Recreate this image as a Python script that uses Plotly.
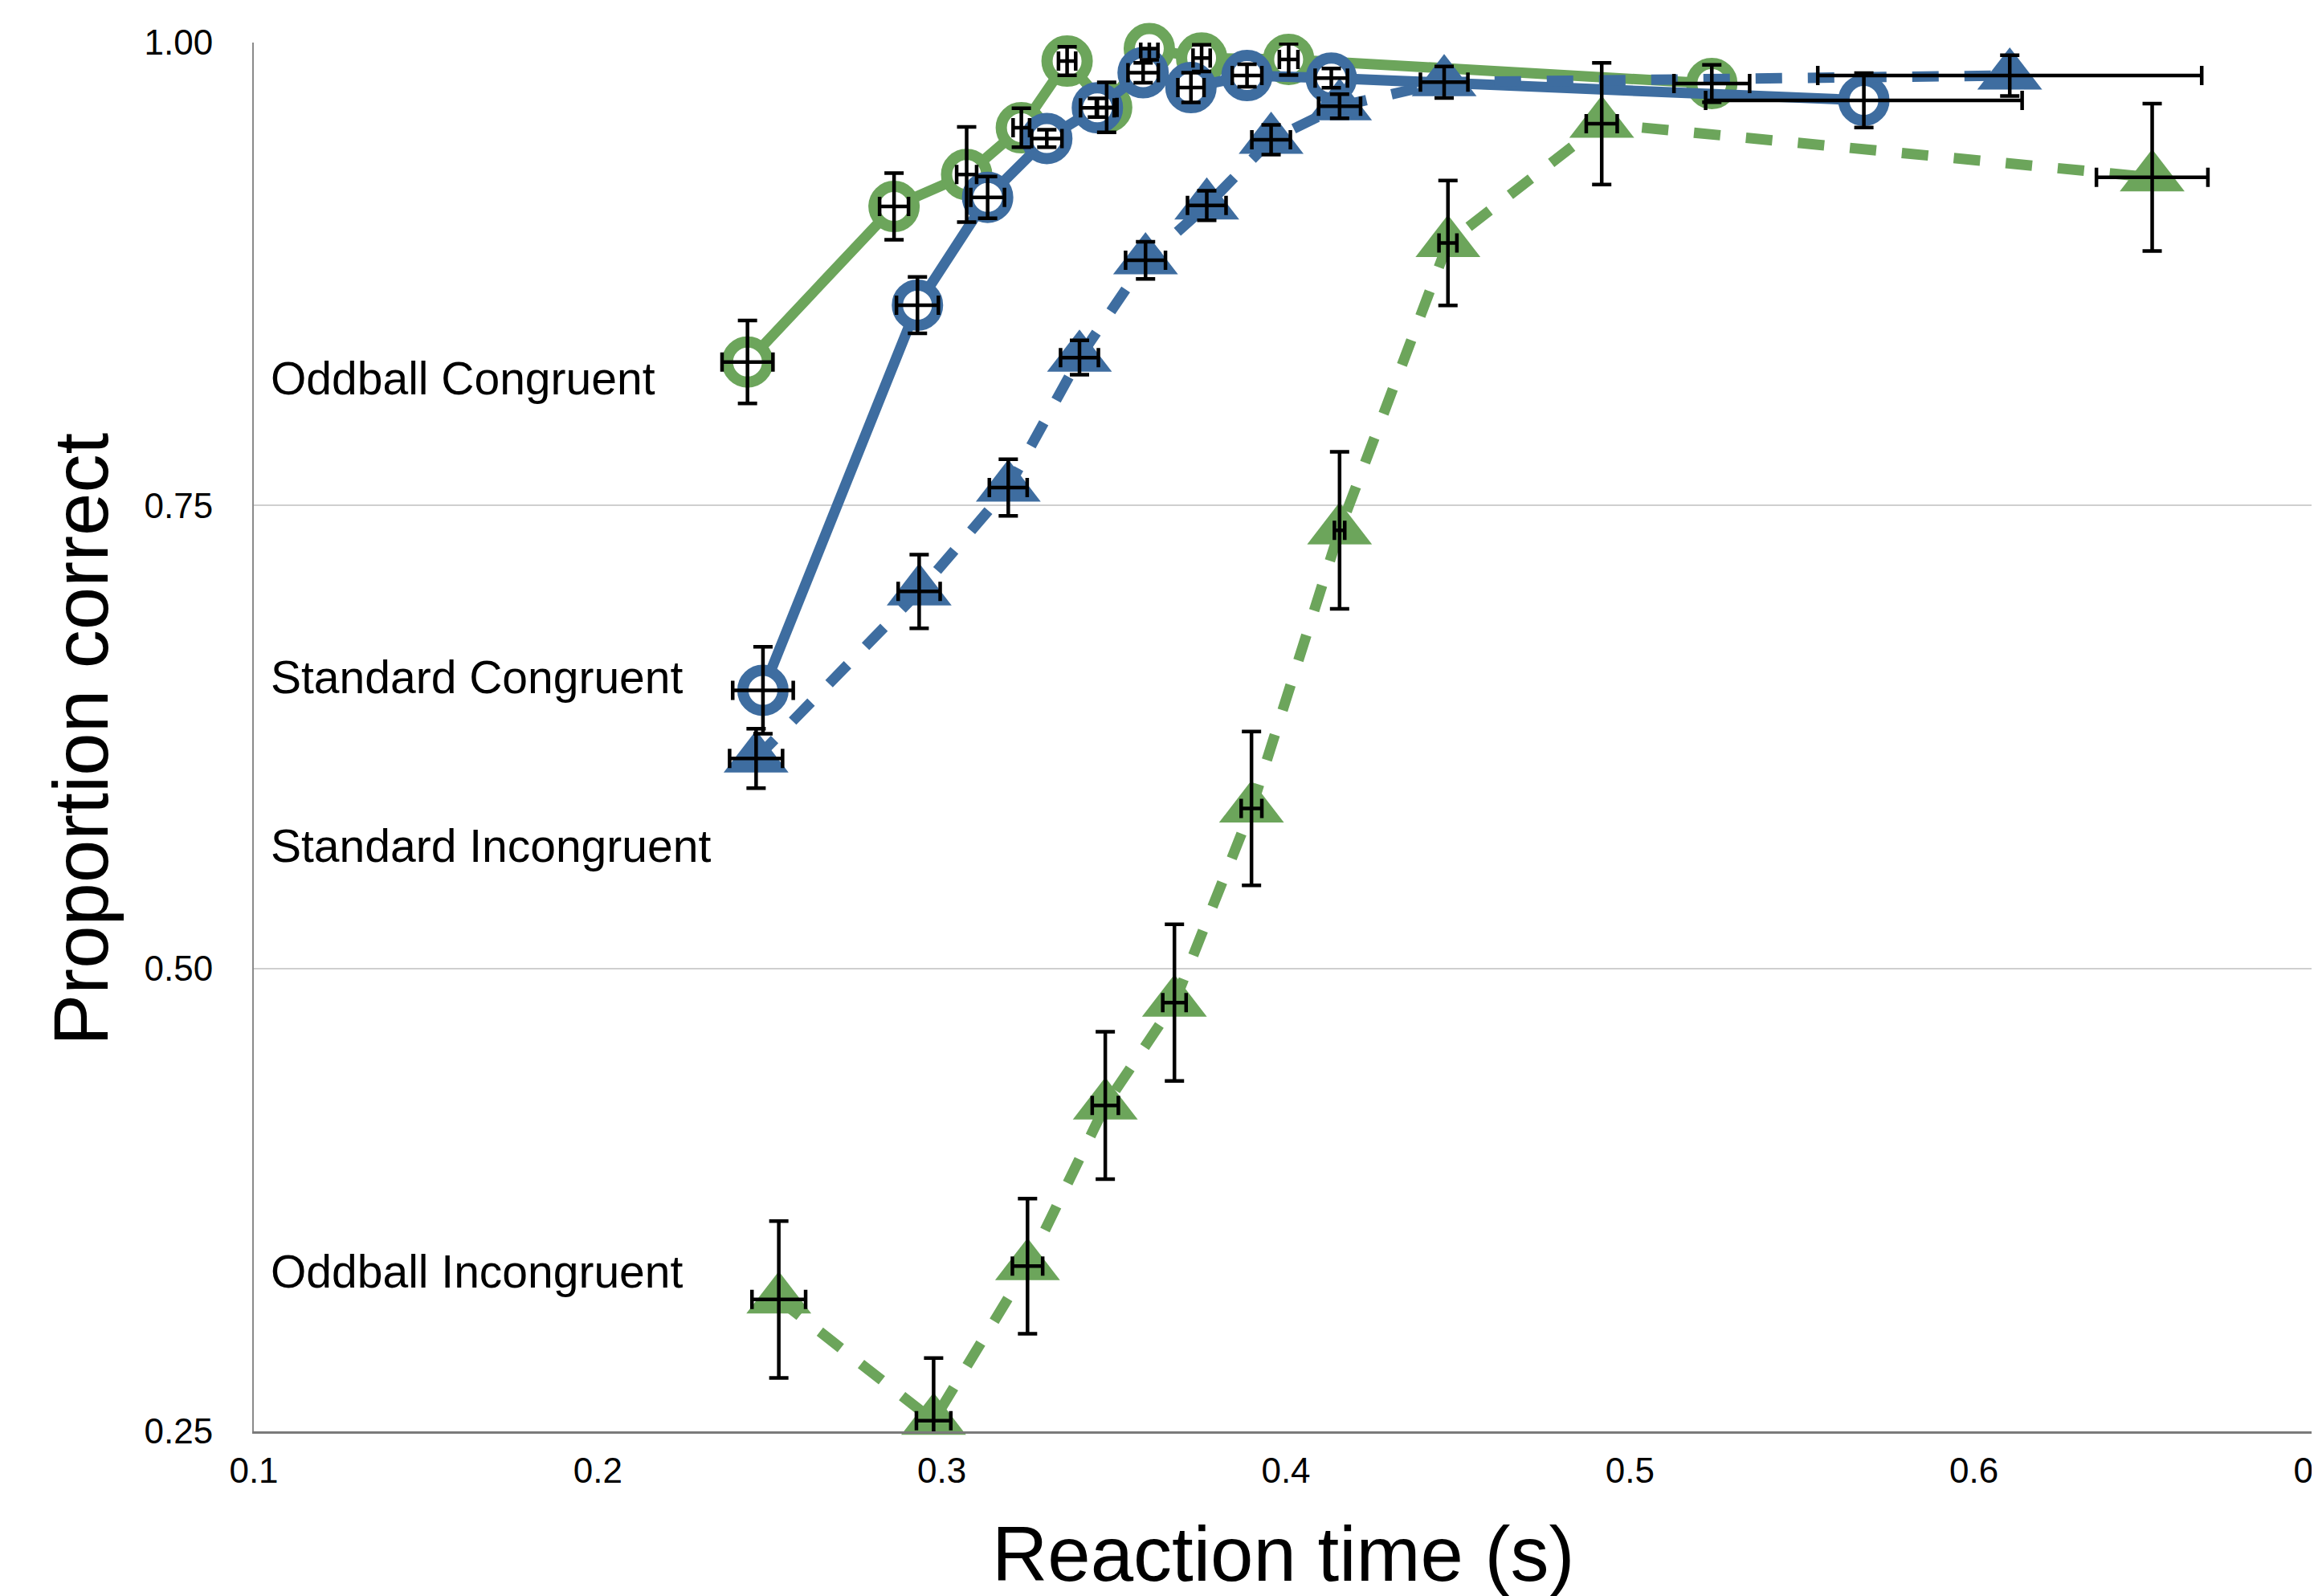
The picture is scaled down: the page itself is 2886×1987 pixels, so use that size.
import plotly.graph_objects as go

# ---------------- data ----------------
x_ticks = [0.1, 0.2, 0.3, 0.4, 0.5, 0.6, 0.7]
x_tick_labels = ["0.1", "0.2", "0.3", "0.4", "0.5", "0.6", "0.7"]
y_ticks = [0.25, 0.50, 0.75, 1.00]
y_tick_labels = ["0.25", "0.50", "0.75", "1.00"]

# Oddball Congruent
oc_x = [0.2435, 0.2861, 0.3072, 0.3231, 0.3364, 0.3479, 0.3603, 0.3755, 0.4008, 0.5238]
oc_y = [0.8275, 0.9115, 0.9287, 0.9540, 0.9900, 0.9650, 0.9967, 0.9916, 0.9909, 0.9779]
oc_xerr = [0.0074, 0.0042, 0.0029, 0.0024, 0.0025, 0.0030, 0.0025, 0.0025, 0.0027, 0.0110]
oc_yerr = [0.0224, 0.0180, 0.0257, 0.0105, 0.0077, 0.0135, 0.0060, 0.0072, 0.0085, 0.0101]

# Oddball Incongruent
oi_x = [0.2526, 0.2976, 0.3249, 0.3475, 0.3676, 0.3900, 0.4156, 0.4471, 0.4918, 0.6518]
oi_y = [0.3212, 0.2557, 0.3392, 0.4260, 0.4815, 0.5864, 0.7366, 0.8918, 0.9562, 0.9272]
oi_xerr = [0.0078, 0.0050, 0.0044, 0.0038, 0.0034, 0.0030, 0.0015, 0.0026, 0.0045, 0.0162]
oi_yerr = [0.0423, 0.0339, 0.0365, 0.0398, 0.0423, 0.0415, 0.0424, 0.0337, 0.0329, 0.0398]

# Standard Congruent
sc_x = [0.2480, 0.2929, 0.3133, 0.3305, 0.3452, 0.3585, 0.3724, 0.3887, 0.4132, 0.5680]
sc_y = [0.6502, 0.8582, 0.9164, 0.9482, 0.9648, 0.9837, 0.9757, 0.9822, 0.9808, 0.9688]
sc_xerr = [0.0088, 0.0061, 0.0049, 0.0044, 0.0049, 0.0044, 0.0038, 0.0043, 0.0047, 0.0460]
sc_yerr = [0.0235, 0.0152, 0.0113, 0.0047, 0.0050, 0.0054, 0.0080, 0.0061, 0.0052, 0.0147]

# Standard Incongruent
si_x = [0.2460, 0.2934, 0.3193, 0.3400, 0.3592, 0.3770, 0.3957, 0.4156, 0.4460, 0.6104]
si_y = [0.6134, 0.7036, 0.7597, 0.8299, 0.8824, 0.9120, 0.9475, 0.9656, 0.9786, 0.9822]
si_xerr = [0.0077, 0.0061, 0.0055, 0.0055, 0.0058, 0.0056, 0.0056, 0.0061, 0.0069, 0.0558]
si_yerr = [0.0160, 0.0199, 0.0153, 0.0093, 0.0100, 0.0080, 0.0080, 0.0065, 0.0085, 0.0110]

series_names = ["Oddball Congruent", "Oddball Incongruent", "Standard Congruent", "Standard Incongruent"]

# ---------------- styling ----------------
GREEN = "#6ca55b"
BLUE = "#3e6da0"
FONT = "Liberation Sans, Arial, Helvetica, sans-serif"
DASH = "33px,32px"

styles = {
    "Oddball Congruent": dict(color=GREEN, dash="solid", kind="circle"),
    "Oddball Incongruent": dict(color=GREEN, dash=DASH, kind="triangle"),
    "Standard Congruent": dict(color=BLUE, dash="solid", kind="circle"),
    "Standard Incongruent": dict(color=BLUE, dash=DASH, kind="triangle"),
}
data = {
    "Oddball Congruent": (oc_x, oc_y, oc_xerr, oc_yerr),
    "Oddball Incongruent": (oi_x, oi_y, oi_xerr, oi_yerr),
    "Standard Congruent": (sc_x, sc_y, sc_xerr, sc_yerr),
    "Standard Incongruent": (si_x, si_y, si_xerr, si_yerr),
}

fig = go.Figure()

for name in series_names:
    xs, ys, xe, ye = data[name]
    st = styles[name]
    if st["kind"] == "circle":
        marker = dict(symbol="circle", size=50, color="white",
                      line=dict(color=st["color"], width=14))
    else:
        marker = dict(symbol="triangle-up", size=70, color=st["color"],
                      line=dict(width=0))
    fig.add_trace(go.Scatter(
        x=xs, y=ys, name=name, mode="lines+markers",
        line=dict(color=st["color"], width=13, dash=st["dash"]),
        marker=marker, cliponaxis=False, showlegend=False,
    ))

# error bars drawn on top of everything
for name in series_names:
    xs, ys, xe, ye = data[name]
    fig.add_trace(go.Scatter(
        x=xs, y=ys, mode="markers",
        marker=dict(size=2, opacity=0),
        error_x=dict(type="data", array=xe, visible=True, color="black",
                     thickness=4.5, width=12),
        error_y=dict(type="data", array=ye, visible=True, color="black",
                     thickness=4.5, width=12),
        cliponaxis=False, showlegend=False, hoverinfo="skip",
    ))

# series labels at the left
label_x = 0.1045
label_y = {"Oddball Congruent": 0.8188, "Standard Congruent": 0.6574,
           "Standard Incongruent": 0.5663, "Oddball Incongruent": 0.3364}
annotations = []
for name in series_names:
    annotations.append(dict(
        x=label_x, y=label_y[name], xref="x", yref="y", text=name,
        showarrow=False, xanchor="left", yanchor="middle",
        font=dict(family=FONT, size=57, color="black"),
    ))

# axis titles
annotations.append(dict(
    x=0.4988, y=-0.088, xref="paper", yref="paper", text="Reaction time (s)",
    showarrow=False, xanchor="center", yanchor="middle",
    font=dict(family=FONT, size=96, color="black"),
))
annotations.append(dict(
    x=-0.0837, y=0.4986, xref="paper", yref="paper", text="Proportion correct",
    showarrow=False, xanchor="center", yanchor="middle", textangle=-90,
    font=dict(family=FONT, size=96, color="black"),
))

# the page body has an 8px margin, so the figure is 8px smaller each way
fig.update_layout(
    width=2878, height=1979,
    margin=dict(l=308, r=0, t=45, b=205, autoexpand=False),
    paper_bgcolor="white", plot_bgcolor="white",
    font=dict(family=FONT, color="black"),
    annotations=annotations,
    showlegend=False,
)
fig.update_xaxes(
    range=[0.1, 0.7], tickvals=x_ticks, ticktext=x_tick_labels,
    showgrid=False, zeroline=False, showline=True, linecolor="#7a7a7a", linewidth=3,
    ticks="", ticklabelstandoff=8, ticklabeloverflow="allow",
    tickfont=dict(family=FONT, size=44, color="black"),
)
fig.update_yaxes(
    range=[0.25, 1.0], tickvals=y_ticks, ticktext=y_tick_labels,
    showgrid=True, gridcolor="#cfcfcf", gridwidth=2,
    zeroline=False, showline=True, linecolor="#8a8a8a", linewidth=2,
    ticks="", ticklabelstandoff=40, ticklabeloverflow="allow",
    tickfont=dict(family=FONT, size=44, color="black"),
)

fig.write_html("out.html")
